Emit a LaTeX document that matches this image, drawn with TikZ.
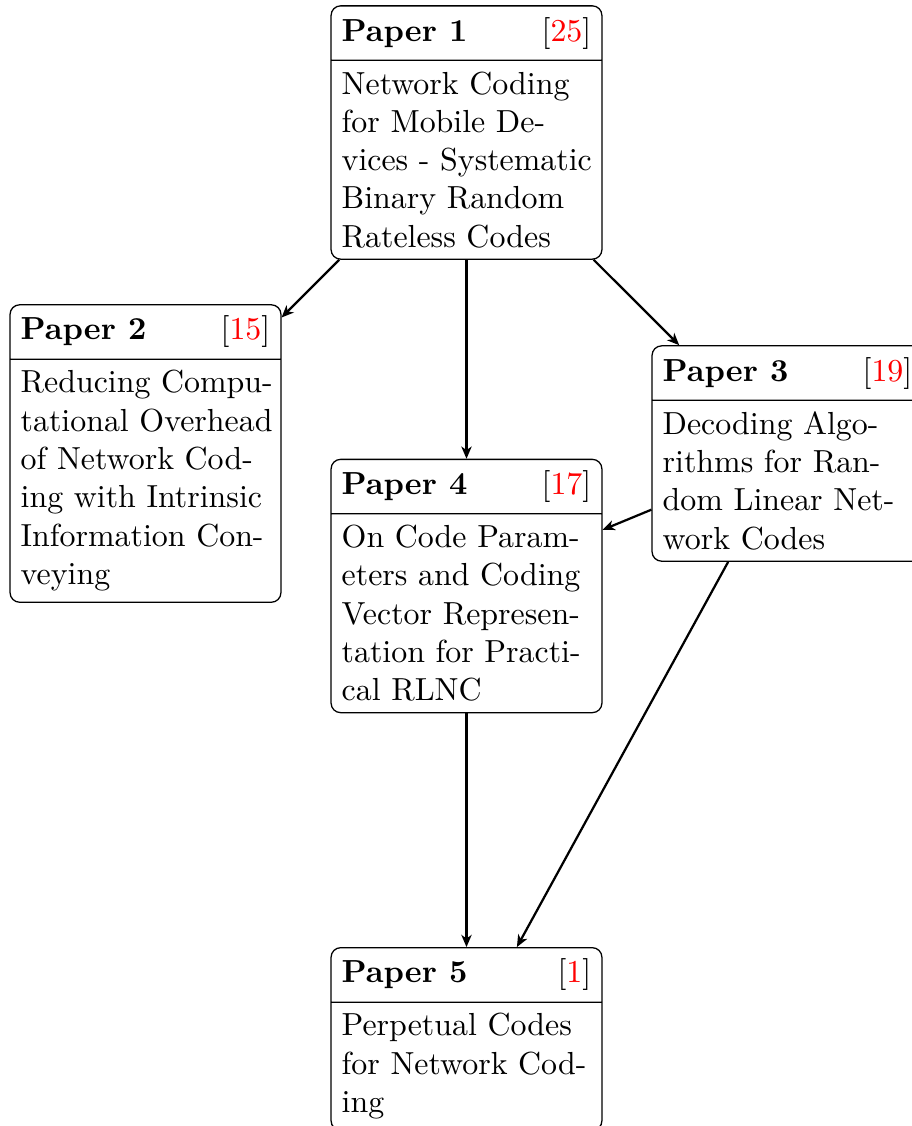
\documentclass[tikz,border=0pt]{standalone}
\usetikzlibrary{shapes.multipart,arrows.meta}
\tikzset{
  paper/.style={rectangle split, rectangle split parts=2, draw, line width=0.4pt,
    rounded corners=3pt, text width=2.75cm, align=flush left, inner sep=0.3333em},
  cites/.style={line width=0.7pt, -{Stealth[length=3.8pt,width=3.2pt,inset=1.1pt]}}
}
\newcommand{\paperhead}[2]{\textbf{Paper #1}\hspace{0pt plus 1filll}[\textcolor{red}{#2}]}
% one typeset line of a paper title, kept in one piece
\newcommand{\tl}[1]{\mbox{#1}}
\begin{document}
\begin{tikzpicture}[x=0.31348pt, y=-0.31348pt]
  \useasboundingbox (0,0) rectangle (912,1126);

  \node[paper] (p1) at (466.5,132.5) {\paperhead{1}{25}
    \nodepart{two} \tl{Network Coding}\\ \tl{for Mobile De-}\\ \tl{vices - Systematic}\\ \tl{Binary Random}\\ \tl{Rateless Codes}};
  \node[paper] (p2) at (145.5,453.5) {\paperhead{2}{15}
    \nodepart{two} \tl{Reducing Compu-}\\ \tl{tational Overhead}\\ \tl{of Network Cod-}\\ \tl{ing with Intrinsic}\\ \tl{Information Con-}\\ \tl{veying}};
  \node[paper] (p3) at (787.5,453.5) {\paperhead{3}{19}
    \nodepart{two} \tl{Decoding Algo-}\\ \tl{rithms for Ran-}\\ \tl{dom Linear Net-}\\ \tl{work Codes}};
  \node[paper] (p4) at (466.5,586) {\paperhead{4}{17}
    \nodepart{two} \tl{On Code Param-}\\ \tl{eters and Coding}\\ \tl{Vector Represen-}\\ \tl{tation for Practi-}\\ \tl{cal RLNC}};
  \node[paper] (p5) at (466.5,1039) {\paperhead{5}{1}
    \nodepart{two} \tl{Perpetual Codes}\\ \tl{for Network Cod-}\\ \tl{ing}};

  \draw[cites] (p1) -- (p2);
  \draw[cites] (p1) -- (p4);
  \draw[cites] (p1) -- (p3);
  \draw[cites] (p3) -- (p4);
  \draw[cites] (p4) -- (p5);
  \draw[cites] (p3) -- (p5);
\end{tikzpicture}
\end{document}
